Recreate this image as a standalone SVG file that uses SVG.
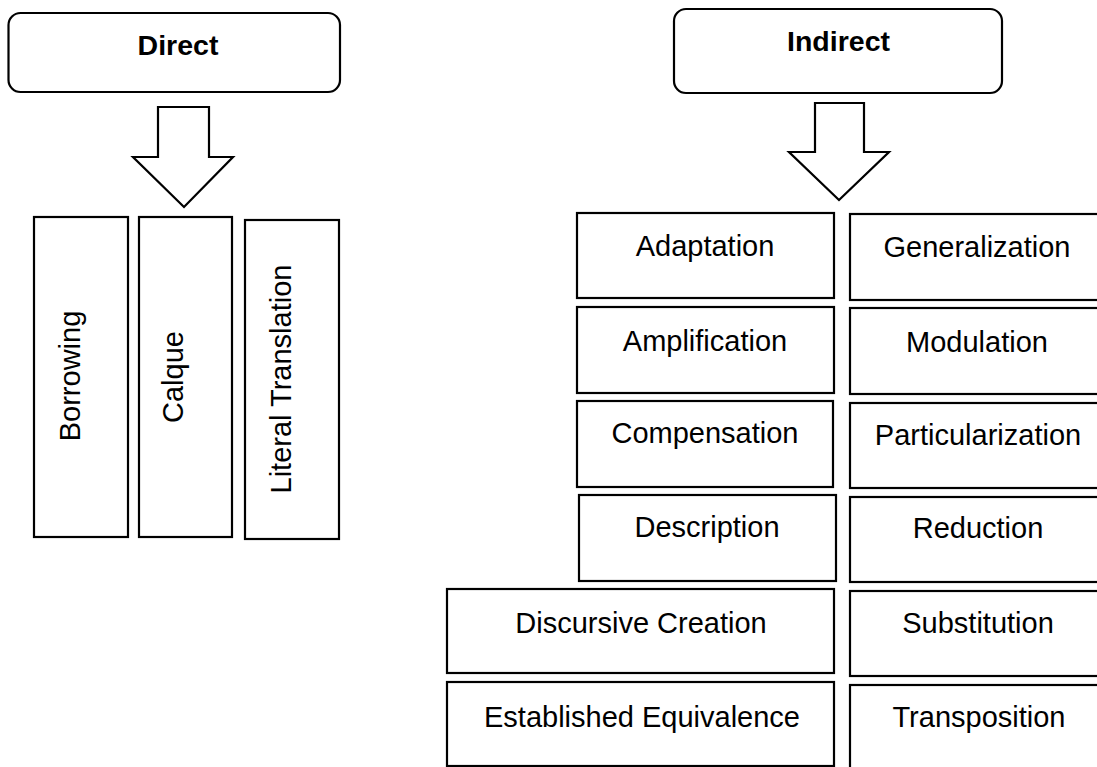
<svg xmlns="http://www.w3.org/2000/svg" width="1097" height="767" viewBox="0 0 1097 767">
<style>
.box{fill:#fff;stroke:#000;stroke-width:2.2}
.hdr{fill:#fff;stroke:#000;stroke-width:2.2}
.arr{fill:#fff;stroke:#000;stroke-width:2.2;stroke-linejoin:miter}
.t{font-family:"Liberation Sans",Arial,sans-serif;font-size:29px;fill:#000;text-anchor:middle}
.b{font-family:"Liberation Sans",Arial,sans-serif;font-size:28.5px;font-weight:bold;fill:#000;text-anchor:middle}
</style>
<rect width="1097" height="767" fill="#fff"/>
<g id="connectors">
<path class="arr" d="M158,107 H209 V157 H233 L184,207 L133,157 H158 Z"/>
<path class="arr" d="M815,103 H864 V152 H889 L839,200 L789,152 H815 Z"/>
</g>
<g id="direct"><rect class="hdr" x="8.5" y="13" width="331.5" height="79" rx="12"/><text class="b" x="178" y="55">Direct</text></g>
<g id="indirect"><rect class="hdr" x="674" y="9" width="328" height="84" rx="12"/><text class="b" x="838.5" y="51">Indirect</text></g>
<g id="borrowing"><rect class="box" x="34" y="217" width="94" height="320"/><text class="t" transform="translate(79.5,376) rotate(-90)">Borrowing</text></g>
<g id="calque"><rect class="box" x="139" y="217" width="93" height="320"/><text class="t" transform="translate(182.5,377) rotate(-90)">Calque</text></g>
<g id="literal"><rect class="box" x="245" y="220" width="94" height="319"/><text class="t" transform="translate(291,379) rotate(-90)">Literal Translation</text></g>
<g id="adaptation"><rect class="box" x="577" y="213" width="257" height="85"/><text class="t" x="705" y="256">Adaptation</text></g>
<g id="amplification"><rect class="box" x="577" y="307" width="257" height="86"/><text class="t" x="705" y="351">Amplification</text></g>
<g id="compensation"><rect class="box" x="577" y="401" width="256" height="86"/><text class="t" x="705" y="443">Compensation</text></g>
<g id="description"><rect class="box" x="579" y="495" width="257" height="86"/><text class="t" x="707" y="537">Description</text></g>
<g id="discursive"><rect class="box" x="447" y="589" width="387" height="84"/><text class="t" x="641" y="633">Discursive Creation</text></g>
<g id="established"><rect class="box" x="447" y="682" width="387" height="84"/><text class="t" x="642" y="727">Established Equivalence</text></g>
<g id="generalization"><rect class="box" x="850" y="214" width="256" height="86"/><text class="t" x="977" y="257">Generalization</text></g>
<g id="modulation"><rect class="box" x="850" y="308" width="256" height="86"/><text class="t" x="977" y="352">Modulation</text></g>
<g id="particularization"><rect class="box" x="850" y="403" width="256" height="85"/><text class="t" x="978" y="445">Particularization</text></g>
<g id="reduction"><rect class="box" x="850" y="497" width="256" height="85"/><text class="t" x="978" y="538">Reduction</text></g>
<g id="substitution"><rect class="box" x="850" y="591" width="256" height="85"/><text class="t" x="978" y="633">Substitution</text></g>
<g id="transposition"><rect class="box" x="850" y="685" width="256" height="90"/><text class="t" x="979" y="727">Transposition</text></g>
</svg>
